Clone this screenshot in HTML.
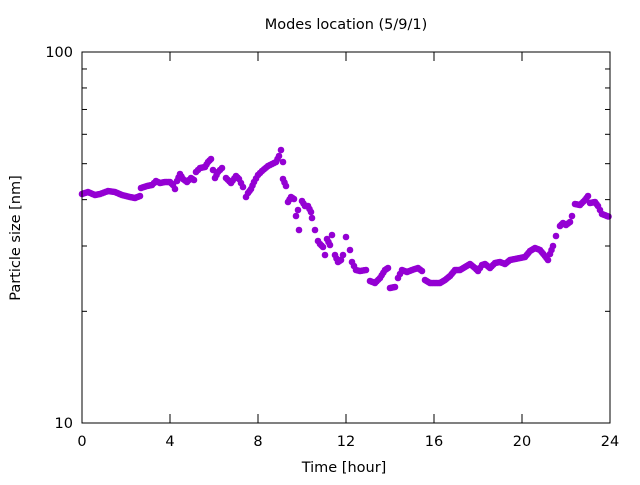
<!DOCTYPE html><html><head><style>body{margin:0;background:#fff}svg{font-family:"DejaVu Sans","Liberation Sans",sans-serif}</style></head><body>
<svg id="s" width="640" height="480" xmlns="http://www.w3.org/2000/svg">
<rect width="640" height="480" fill="#fff"/>
<text x="346" y="29" font-size="14.5" text-anchor="middle">Modes location (5/9/1)</text>
<text x="344" y="472" font-size="14.5" text-anchor="middle">Time [hour]</text>
<text transform="translate(20,238) rotate(-90)" font-size="14.5" text-anchor="middle">Particle size [nm]</text>
<g font-size="14.5" text-anchor="end"><text x="73" y="57">100</text><text x="73" y="428">10</text></g>
<g font-size="14.5" text-anchor="middle" id="xl"></g>
<g id="ax" stroke="#000" stroke-width="1" fill="none"></g>
<g id="pts" fill="#9400d3"></g>
<rect x="82" y="52" width="528" height="371" fill="none" stroke="#000"/>
</svg>
<script>
var ns="http://www.w3.org/2000/svg",ax=document.getElementById('ax'),xl=document.getElementById('xl'),P=document.getElementById('pts');
function L(x1,y1,x2,y2){var l=document.createElementNS(ns,'line');l.setAttribute('x1',x1);l.setAttribute('y1',y1);l.setAttribute('x2',x2);l.setAttribute('y2',y2);ax.appendChild(l);}
for(var i=0;i<=6;i++){var x=82+88*i;L(x,423,x,414);L(x,52,x,61);var t=document.createElementNS(ns,'text');t.setAttribute('x',x);t.setAttribute('y',446);t.textContent=4*i;xl.appendChild(t);}
for(var v=20;v<=90;v+=10){var y=423-371*Math.log10(v/10);L(82,y,87,y);L(610,y,605,y);}
L(82,52,91,52);L(82,423,91,423);L(610,52,601,52);L(610,423,601,423);
var k=[[82,194],[88,192],[95,195],[100,194],[108,191],[115,192],[122,195],[130,197],[135,198],[140,196],[141,188],[147,186],[152,185],[156,181],[160,183],[165,182],[170,182],[173,185],[175,189],[177,181],[180,174],[183,179],[187,182],[191,178],[194,180],[196,172],[200,168],[205,167],[208,162],[211,159],[213,170],[215,178],[218,172],[222,168],[226,178],[231,183],[236,176],[239,179],[243,187],[246,197],[248,193],[251,189],[254,182],[258,175],[262,171],[268,166],[272,164],[276,162],[279,156],[281,150],[283,162],[283,179],[286,186],[288,202],[291,197],[294,199],[296,216],[298,210],[299,230],[302,201],[305,206],[308,206],[311,212],[312,218],[315,230],[318,241],[320,244],[323,247],[325,255],[327,239],[330,245],[332,235],[335,255],[338,262],[341,260],[343,255],[346,237],[350,250],[352,262],[356,270],[360,271],[366,270],[370,281],[375,283],[380,278],[385,270],[388,268],[390,288],[395,287],[398,278],[402,270],[407,272],[412,270],[418,268],[422,271],[425,280],[430,283],[435,283],[440,283],[445,280],[450,276],[455,270],[460,270],[465,267],[470,264],[475,268],[478,271],[482,265],[485,264],[490,268],[495,263],[500,262],[505,264],[510,260],[515,259],[520,258],[525,257],[530,251],[535,248],[540,250],[545,256],[548,260],[550,254],[553,246],[556,236],[560,226],[563,223],[566,225],[570,222],[572,216],[575,204],[580,205],[585,200],[588,196],[590,203],[595,202],[598,206],[602,214],[607,216],[610,217]];
for(var j=0;j<k.length-1;j++){var a=k[j],b=k[j+1],n=Math.max(1,Math.round(Math.abs(b[0]-a[0])/1.8));if(Math.abs(b[1]-a[1])>8)n=1;for(var s=0;s<n;s++){var f=s/n,c=document.createElementNS(ns,'circle');c.setAttribute('cx',a[0]+(b[0]-a[0])*f);c.setAttribute('cy',a[1]+(b[1]-a[1])*f);c.setAttribute('r',3.3);P.appendChild(c);}}
</script></body></html>
